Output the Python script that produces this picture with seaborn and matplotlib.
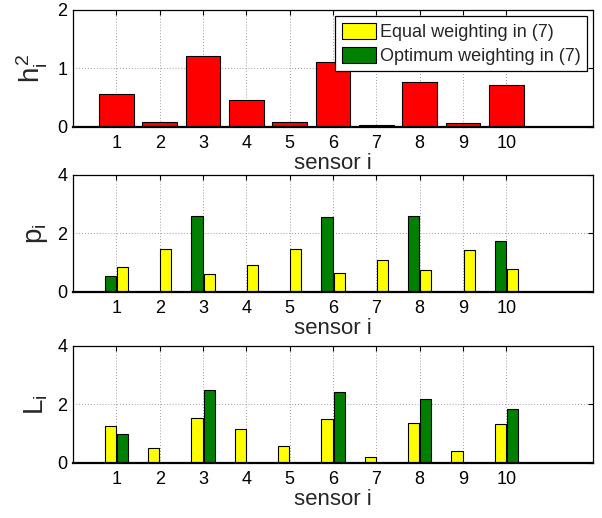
import numpy as np
import pandas as pd
import matplotlib
matplotlib.use("Agg")
import matplotlib.pyplot as plt
from matplotlib.patches import Patch
import seaborn as sns

# ---- data ----
sensors = [1, 2, 3, 4, 5, 6, 7, 8, 9, 10]
h2 = [0.56, 0.075, 1.21, 0.46, 0.085, 1.11, 0.03, 0.76, 0.06, 0.71]
p_equal = [0.85, 1.46, 0.62, 0.91, 1.46, 0.64, 1.08, 0.74, 1.43, 0.77]
p_opt = [0.55, 0.0, 2.58, 0.0, 0.0, 2.56, 0.0, 2.58, 0.0, 1.73]
L_equal = [1.25, 0.51, 1.53, 1.17, 0.56, 1.50, 0.20, 1.37, 0.40, 1.34]
L_opt = [1.00, 0.0, 2.50, 0.0, 0.0, 2.43, 0.0, 2.17, 0.0, 1.85]
lab_equal = "Equal weighting in (7)"
lab_opt = "Optimum weighting in (7)"
xlabel = "sensor i"
ylabels = [r"$h_i^2$", r"$p_i$", r"$L_i$"]

sns.set_style("white")
plt.rcParams["font.family"] = ["Liberation Sans", "DejaVu Sans"]
plt.rcParams["mathtext.fontset"] = "custom"
plt.rcParams["mathtext.rm"] = "Liberation Sans"
plt.rcParams["mathtext.it"] = "Liberation Sans"
plt.rcParams["mathtext.bf"] = "Liberation Sans:bold"

YELLOW = "#ffff00"
GREEN = "#008000"
RED = "#ff0000"
palette = {lab_equal: YELLOW, lab_opt: GREEN}

fig = plt.figure(figsize=(6.02, 5.18), dpi=100)
left, width, height = 0.1213, 0.8638, 0.2253
bottoms = [0.7554, 0.4369, 0.1068]
axes = [fig.add_axes([left, b, width, height]) for b in bottoms]

# top: h_i^2
ax = axes[0]
sns.barplot(x=sensors, y=h2, native_scale=True, width=0.8, color=RED,
            saturation=1, edgecolor="black", linewidth=0.8, errorbar=None, ax=ax)

# middle: p_i (optimum left, equal right)
dfp = pd.DataFrame({
    "sensor": sensors * 2,
    "val": p_opt + p_equal,
    "scheme": [lab_opt] * len(sensors) + [lab_equal] * len(sensors),
})
sns.barplot(data=dfp, x="sensor", y="val", hue="scheme",
            hue_order=[lab_opt, lab_equal], palette=palette, native_scale=True,
            width=0.56, gap=0.08, saturation=1, edgecolor="black", linewidth=0.8,
            errorbar=None, legend=False, ax=axes[1])

# bottom: L_i (equal left, optimum right)
dfl = pd.DataFrame({
    "sensor": sensors * 2,
    "val": L_equal + L_opt,
    "scheme": [lab_equal] * len(sensors) + [lab_opt] * len(sensors),
})
sns.barplot(data=dfl, x="sensor", y="val", hue="scheme",
            hue_order=[lab_equal, lab_opt], palette=palette, native_scale=True,
            width=0.56, gap=0.08, saturation=1, edgecolor="black", linewidth=0.8,
            errorbar=None, legend=False, ax=axes[2])

ylims = [(0, 2), (0, 4), (0, 4)]
yticks = [[0, 1, 2], [0, 2, 4], [0, 2, 4]]
for ax, yl, yt, lab in zip(axes, ylims, yticks, ylabels):
    ax.set_xlim(0, 12)
    ax.set_ylim(*yl)
    ax.set_xticks(sensors)
    ax.set_xticklabels([str(s) for s in sensors])
    ax.set_yticks(yt)
    ax.set_axisbelow(True)
    ax.grid(True, linestyle=(0, (1, 2.5)), color="#808080", linewidth=0.6)
    ax.tick_params(axis="both", direction="in", length=3.5, width=0.8,
                   labelsize=13, top=True, right=True, pad=6, colors="black")
    ax.tick_params(axis="y", pad=4)
    for sp in ax.spines.values():
        sp.set_visible(True)
        sp.set_color("black")
        sp.set_linewidth(0.9)
    ax.spines["bottom"].set_linewidth(1.6)
    ax.set_xlabel(xlabel, fontsize=16, labelpad=1)
    ax.set_ylabel(lab, fontsize=20, labelpad=5)

handles = [Patch(facecolor=YELLOW, edgecolor="black", linewidth=0.8, label=lab_equal),
           Patch(facecolor=GREEN, edgecolor="black", linewidth=0.8, label=lab_opt)]
leg = axes[0].legend(handles=handles, loc="upper right", fontsize=13,
                     frameon=True, fancybox=False, framealpha=1, edgecolor="black",
                     handlelength=1.9, handleheight=1.05, handletextpad=0.2,
                     labelspacing=0.3, borderpad=0.35, borderaxespad=0.35)
leg.get_frame().set_linewidth(0.9)

fig.savefig("out.png", dpi=100)
